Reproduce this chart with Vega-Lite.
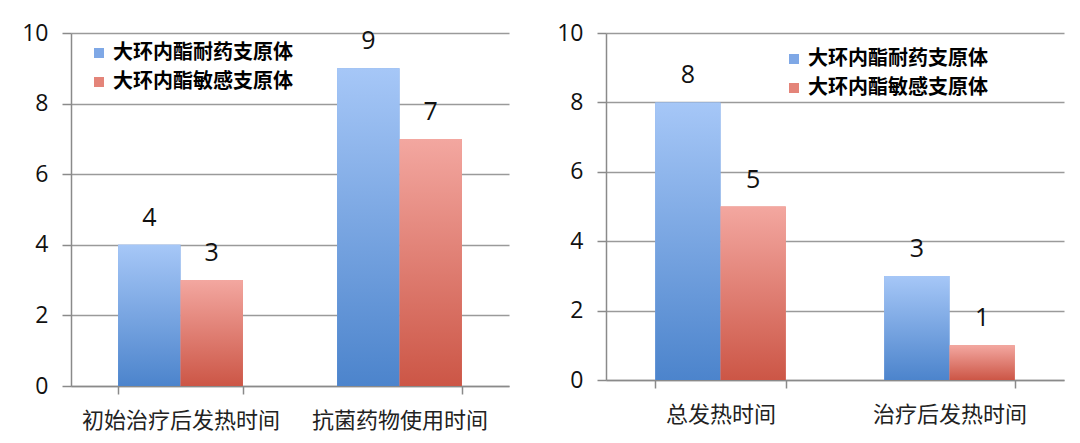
{
  "$schema": "https://vega.github.io/schema/vega-lite/v6.json",
  "background": "white",
  "padding": {"left": 21, "top": 22, "right": 5, "bottom": 5},
  "datasets": {
    "left": [
      {"cat": "初始治疗后发热时间", "series": "大环内酯耐药支原体", "value": 4},
      {"cat": "初始治疗后发热时间", "series": "大环内酯敏感支原体", "value": 3},
      {"cat": "抗菌药物使用时间", "series": "大环内酯耐药支原体", "value": 9},
      {"cat": "抗菌药物使用时间", "series": "大环内酯敏感支原体", "value": 7}
    ],
    "right": [
      {"cat": "总发热时间", "series": "大环内酯耐药支原体", "value": 8},
      {"cat": "总发热时间", "series": "大环内酯敏感支原体", "value": 5},
      {"cat": "治疗后发热时间", "series": "大环内酯耐药支原体", "value": 3},
      {"cat": "治疗后发热时间", "series": "大环内酯敏感支原体", "value": 1}
    ]
  },
  "hconcat": [
    {
      "width": 438,
      "height": 353,
      "data": {"name": "left"},
      "encoding": {
        "x": {"field": "cat", "type": "nominal", "sort": null,
              "scale": {"paddingInner": 0.43, "paddingOuter": 0.215},
              "axis": {"title": null, "labelAngle": 0, "tickBand": "extent"}},
        "xOffset": {"field": "series", "type": "nominal", "sort": null},
        "y": {"field": "value", "type": "quantitative",
              "scale": {"domain": [0, 10], "nice": false},
              "axis": {"title": null, "values": [0, 2, 4, 6, 8, 10]}}
      },
      "layer": [
        {
          "mark": {"type": "bar"},
          "encoding": {
            "color": {"field": "series", "type": "nominal", "sort": null,
              "scale": {"domain": ["大环内酯耐药支原体", "大环内酯敏感支原体"], "range": ["#7fa8e6", "#e48479"]},
              "legend": {"title": null, "orient": "none", "legendX": 18, "legendY": 10}}
          }
        },
        {
          "transform": [{"filter": "datum.series === '大环内酯耐药支原体'"}],
          "mark": {"type": "bar", "color": {"gradient": "linear", "x1": 0, "y1": 0, "x2": 0, "y2": 1, "stops": [{"offset": 0, "color": "#a6c7f7"}, {"offset": 1, "color": "#4c84cc"}]}}
        },
        {
          "transform": [{"filter": "datum.series === '大环内酯敏感支原体'"}],
          "mark": {"type": "bar", "color": {"gradient": "linear", "x1": 0, "y1": 0, "x2": 0, "y2": 1, "stops": [{"offset": 0, "color": "#f3a7a0"}, {"offset": 1, "color": "#cc5646"}]}}
        },
        {
          "mark": {"type": "text", "dy": -19, "baseline": "alphabetic", "fontSize": 25, "font": "Open Sans", "color": "#111"},
          "encoding": {"text": {"field": "value", "type": "quantitative"}}
        }
      ]
    },
    {
      "width": 458,
      "height": 347,
      "data": {"name": "right"},
      "encoding": {
        "x": {"field": "cat", "type": "nominal", "sort": null,
              "scale": {"paddingInner": 0.43, "paddingOuter": 0.215},
              "axis": {"title": null, "labelAngle": 0, "tickBand": "extent"}},
        "xOffset": {"field": "series", "type": "nominal", "sort": null},
        "y": {"field": "value", "type": "quantitative",
              "scale": {"domain": [0, 10], "nice": false},
              "axis": {"title": null, "values": [0, 2, 4, 6, 8, 10]}}
      },
      "layer": [
        {
          "mark": {"type": "bar"},
          "encoding": {
            "color": {"field": "series", "type": "nominal", "sort": null,
              "scale": {"domain": ["大环内酯耐药支原体", "大环内酯敏感支原体"], "range": ["#7fa8e6", "#e48479"]},
              "legend": {"title": null, "orient": "none", "legendX": 178, "legendY": 16}}
          }
        },
        {
          "transform": [{"filter": "datum.series === '大环内酯耐药支原体'"}],
          "mark": {"type": "bar", "color": {"gradient": "linear", "x1": 0, "y1": 0, "x2": 0, "y2": 1, "stops": [{"offset": 0, "color": "#a6c7f7"}, {"offset": 1, "color": "#4c84cc"}]}}
        },
        {
          "transform": [{"filter": "datum.series === '大环内酯敏感支原体'"}],
          "mark": {"type": "bar", "color": {"gradient": "linear", "x1": 0, "y1": 0, "x2": 0, "y2": 1, "stops": [{"offset": 0, "color": "#f3a7a0"}, {"offset": 1, "color": "#cc5646"}]}}
        },
        {
          "mark": {"type": "text", "dy": -19, "baseline": "alphabetic", "fontSize": 25, "font": "Open Sans", "color": "#111"},
          "encoding": {"text": {"field": "value", "type": "quantitative"}}
        }
      ]
    }
  ],
  "resolve": {"scale": {"color": "independent", "x": "independent", "y": "independent", "xOffset": "independent"}, "legend": {"color": "independent"}},
  "config": {
    "concat": {"spacing": 47},
    "view": {"stroke": null},
    "axis": {
      "domainColor": "#8a8a8a", "domainWidth": 1.5,
      "tickColor": "#8a8a8a", "tickWidth": 1.5,
      "gridColor": "#9a9a9a", "gridWidth": 1.5
    },
    "axisY": {
      "grid": true, "tickSize": 9, "labelPadding": 14, "labelFontSize": 23,
      "labelFont": "Open Sans", "labelColor": "#111", "domain": true
    },
    "axisX": {
      "grid": false, "tickSize": 8, "labelPadding": 16, "labelFontSize": 22,
      "labelFont": "Noto Sans CJK SC", "labelColor": "#222", "labelBaseline": "top", "labelLimit": 0
    },
    "legend": {
      "symbolType": "square", "symbolSize": 100, "symbolStrokeWidth": 0,
      "labelFont": "Noto Sans CJK SC", "labelFontWeight": "bold", "labelFontSize": 20,
      "labelColor": "#000", "labelOffset": 4, "rowPadding": 9, "labelLimit": 0
    }
  }
}
